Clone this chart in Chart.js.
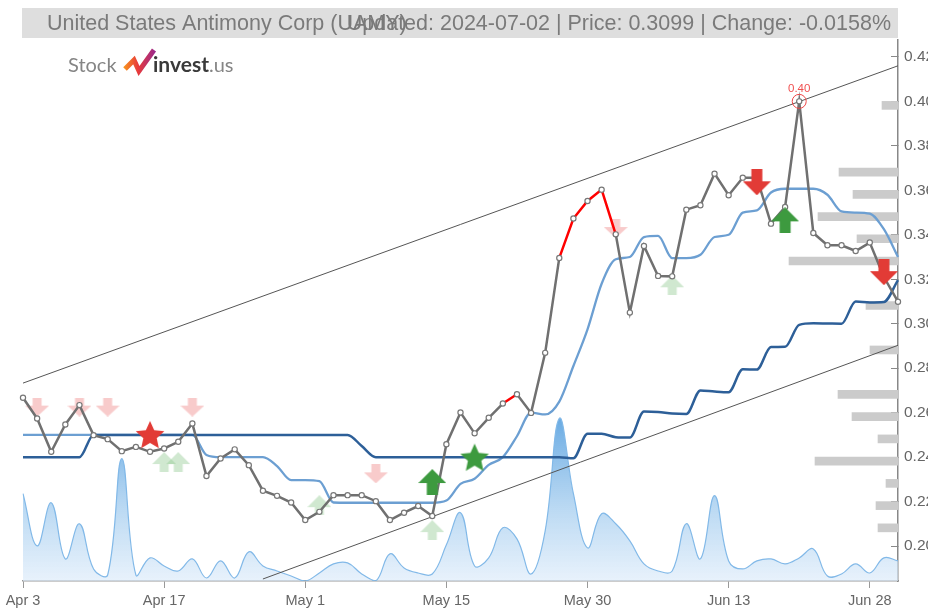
<!DOCTYPE html>
<html>
<head>
<meta charset="utf-8">
<title>UAMY</title>
<script src="https://cdn.jsdelivr.net/npm/chart.js@4.4.1/dist/chart.umd.min.js"></script>
<style>
  html, body { margin: 0; padding: 0; background: #fff; }
  #wrap { width: 928px; height: 608px; }
</style>
</head>
<body>
<div id="wrap"><canvas id="myChart" width="928" height="608"></canvas></div>
<script>
// trading days Apr 3 - Jul 2 2024
const days = ['Apr 3','Apr 4','Apr 5','Apr 8','Apr 9','Apr 10','Apr 11','Apr 12','Apr 15','Apr 16',
  'Apr 17','Apr 18','Apr 19','Apr 22','Apr 23','Apr 24','Apr 25','Apr 26','Apr 29','Apr 30',
  'May 1','May 2','May 3','May 6','May 7','May 8','May 9','May 10','May 13','May 14',
  'May 15','May 16','May 17','May 20','May 21','May 22','May 23','May 24','May 28','May 29',
  'May 30','May 31','Jun 3','Jun 4','Jun 5','Jun 6','Jun 7','Jun 10','Jun 11','Jun 12',
  'Jun 13','Jun 14','Jun 17','Jun 18','Jun 20','Jun 21','Jun 24','Jun 25','Jun 26','Jun 27',
  'Jun 28','Jul 1','Jul 2'];

const price = [0.2667,0.2574,0.2424,0.2547,0.2634,0.2499,0.2481,0.2427,0.2446,0.2424,
  0.2439,0.2469,0.2551,0.2315,0.2394,0.2435,0.2364,0.2249,0.2226,0.2196,
  0.2117,0.2154,0.2229,0.2229,0.2229,0.2202,0.2117,0.2150,0.2180,0.2135,
  0.2458,0.2601,0.2507,0.2577,0.2641,0.2683,0.2599,0.2869,0.3296,0.3473,
  0.3552,0.3603,0.3402,0.3050,0.3350,0.3215,0.3213,0.3513,0.3533,0.3675,
  0.3578,0.3657,0.3657,0.3450,0.3525,0.4000,0.3408,0.3353,0.3353,0.3327,
  0.3365,0.3210,0.3099];

// short average (light blue)
const avgShort = [0.25,0.25,0.25,0.25,0.25,0.25,0.25,0.25,0.25,0.25,
  0.25,0.25,0.25,0.241,0.24,0.24,0.24,0.24,0.236,0.2297,
  0.2297,0.2292,0.2196,0.2195,0.2195,0.2195,0.2195,0.2195,0.2195,0.2195,
  0.2205,0.228,0.2303,0.2365,0.240,0.2494,0.260,0.2592,0.265,0.281,
  0.2975,0.318,0.329,0.330,0.339,0.3395,0.3295,0.3295,0.331,0.339,
  0.340,0.350,0.351,0.359,0.3607,0.3607,0.3607,0.358,0.3505,0.350,
  0.3495,0.3425,0.330];

// long average (dark blue)
const avgLong = [0.24,0.24,0.24,0.24,0.24,0.25,0.25,0.25,0.25,0.25,
  0.25,0.25,0.25,0.25,0.25,0.25,0.25,0.25,0.25,0.25,
  0.25,0.25,0.25,0.25,0.245,0.24,0.24,0.24,0.24,0.24,
  0.24,0.24,0.24,0.24,0.24,0.24,0.24,0.24,0.24,0.2395,
  0.2505,0.2505,0.249,0.2488,0.2605,0.2603,0.2596,0.2594,0.270,0.2695,
  0.2692,0.2795,0.2794,0.2895,0.2896,0.2995,0.3002,0.3001,0.300,0.310,
  0.3096,0.3098,0.3196];

const volume = [87,35,78,22,57,12,6,122,6,23,
  15,10,22,3,20,3,29,15,10,5,
  0,8,17,18,7,0,27,13,8,7,
  36,68,15,23,53,42,7,50,162,87,
  33,67,57,40,17,10,10,57,22,85,
  20,12,20,22,17,23,32,5,7,17,
  8,23,20];

// segments of the price line drawn red (start index)
const redSegs = [34, 38, 39, 40, 41];

// trend channel ends
const chanTopIdx = [0, 62];
const chanTopVal = [0.2733, 0.4160];
const chanLowIdx = [17, 62];
const chanLowVal = [0.1852, 0.2903];

// signals
const weakSellIdx = [1, 4, 6, 12, 25, 42];
const weakSellVal = [0.2625, 0.2625, 0.2625, 0.2625, 0.2325, 0.3428];
const weakBuyIdx = [10, 11, 21, 29, 46];
const weakBuyVal = [0.2378, 0.2378, 0.2184, 0.2072, 0.3173];
const sellIdx = [52, 61];
const sellVal = [0.3636, 0.3232];
const buyIdx = [29, 54];
const buyVal = [0.2288, 0.3465];
const redStarIdx = [9];
const redStarVal = [0.2500];
const greenStarIdx = [32];
const greenStarVal = [0.2398];
const peakIdx = [55];

// volume by price (right side)
const profLevels = [0.40,0.37,0.36,0.35,0.34,0.33,0.31,0.29,0.27,0.26,0.25,0.24,0.23,0.22,0.21];
const profSize = [16,59,45,80,41,109,32,28,60,46,20,83,12,22,20];

const yTicks = [0.20,0.22,0.24,0.26,0.28,0.30,0.32,0.34,0.36,0.38,0.40,0.42];

const titleName = 'United States Antimony Corp (UAMY)';
const titleInfo = 'Updated: 2024-07-02 | Price: 0.3099 | Change: -0.0158%';

const fam = '"Liberation Sans", Arial, sans-serif';

function spread(idx, vals) {
  const a = new Array(days.length).fill(null);
  idx.forEach(function(d, k) { a[d] = vals[k]; });
  return a;
}

function arrowImg(dir, color, w, h, stemW, stemH) {
  const c = document.createElement('canvas');
  c.width = w; c.height = h;
  const g = c.getContext('2d');
  const sx = (w - stemW) / 2;
  g.fillStyle = color;
  g.beginPath();
  if (dir == 'down') {
    g.moveTo(sx, 0); g.lineTo(sx + stemW, 0); g.lineTo(sx + stemW, stemH);
    g.lineTo(w, stemH); g.lineTo(w / 2, h); g.lineTo(0, stemH); g.lineTo(sx, stemH);
  } else {
    g.moveTo(sx, h); g.lineTo(sx + stemW, h); g.lineTo(sx + stemW, h - stemH);
    g.lineTo(w, h - stemH); g.lineTo(w / 2, 0); g.lineTo(0, h - stemH); g.lineTo(sx, h - stemH);
  }
  g.closePath();
  g.fill();
  return c;
}

function starImg(color, r) {
  const c = document.createElement('canvas');
  c.width = c.height = r * 2 + 2;
  const g = c.getContext('2d');
  g.fillStyle = color;
  g.beginPath();
  for (let i = 0; i < 10; i++) {
    const rr = i % 2 === 0 ? r : r * 0.47;
    const a = -Math.PI / 2 + i * Math.PI / 5;
    g.lineTo(c.width / 2 + rr * Math.cos(a), c.height / 2 + 1 + rr * Math.sin(a));
  }
  g.closePath();
  g.fill();
  return c;
}

const imgWeakSell = arrowImg('down', 'rgba(242,160,160,0.55)', 24, 19, 9, 8);
const imgWeakBuy = arrowImg('up', 'rgba(150,205,150,0.45)', 24, 20, 9, 8);
const imgSell = arrowImg('down', '#e23b36', 28, 26, 11, 12);
const imgBuy = arrowImg('up', '#3d9a3f', 28, 26, 11, 12);
const imgRedStar = starImg('#e23b36', 15);
const imgGreenStar = starImg('#3d9a3f', 15);

function markers(idx, vals, img, ord) {
  return {
    type: 'line', data: spread(idx, vals), showLine: false,
    pointStyle: img, pointRadius: 10, order: ord, yAxisID: 'y'
  };
}

const overlay = {
  id: 'overlay',
  afterDraw(chart) {
    const g = chart.ctx;
    g.save();
    // title band
    g.fillStyle = '#dedede';
    g.fillRect(22, 8, 876, 30);
    g.fillStyle = '#7a7a7a';
    g.font = '21.5px ' + fam;
    g.textBaseline = 'middle';
    g.textAlign = 'left';
    g.fillText(titleName, 47, 24);
    g.textAlign = 'right';
    g.fillText(titleInfo, 891, 24);

    // logo
    g.textAlign = 'left';
    g.textBaseline = 'alphabetic';
    g.font = '20px Lato, "Open Sans", sans-serif';
    g.fillStyle = '#858585';
    g.fillText('Stock', 68, 72);
    const gr = g.createLinearGradient(124, 0, 155, 0);
    gr.addColorStop(0, '#f7931e');
    gr.addColorStop(0.45, '#e83a3a');
    gr.addColorStop(1, '#9b2a8c');
    g.strokeStyle = gr;
    g.lineWidth = 5;
    g.lineJoin = 'miter';
    g.beginPath();
    g.moveTo(125, 69); g.lineTo(134, 60); g.lineTo(139, 71); g.lineTo(154, 50);
    g.stroke();
    g.font = 'bold 21px Lato, "Open Sans", sans-serif';
    g.fillStyle = '#3a3a3a';
    g.fillText('invest', 153, 72);
    const w = g.measureText('invest').width;
    g.font = '20px Lato, "Open Sans", sans-serif';
    g.fillStyle = '#858585';
    g.fillText('.us', 153 + w, 72);

    // peak label
    const xs = chart.scales.x, ys = chart.scales.y;
    const p = peakIdx[0];
    g.font = '11.5px ' + fam;
    g.fillStyle = '#f05050';
    g.textAlign = 'center';
    g.fillText(price[p].toFixed(2), xs.getPixelForValue(p), ys.getPixelForValue(price[p]) - 9);
    g.restore();
  }
};

const data = {
  labels: days,
  datasets: [
    {
      label: 'Volume', data: volume, yAxisID: 'yv', order: 10,
      borderColor: 'rgba(130,185,232,1)', borderWidth: 1.2, pointRadius: 0, tension: 0.4, fill: 'origin',
      backgroundColor: function(c) {
        const a = c.chart.chartArea;
        if (!a) return 'rgba(150,195,235,0.5)';
        const gr = c.chart.ctx.createLinearGradient(0, a.bottom - 165, 0, a.bottom);
        gr.addColorStop(0, 'rgba(95,165,225,0.95)');
        gr.addColorStop(0.6, 'rgba(170,208,240,0.75)');
        gr.addColorStop(1, 'rgba(222,236,250,0.7)');
        return gr;
      }
    },
    {
      type: 'bar', label: 'Profile', indexAxis: 'y', xAxisID: 'xp', yAxisID: 'y', order: 9,
      data: profLevels.map(function(v, i) { return { x: profSize[i], y: v }; }),
      backgroundColor: '#cbcbcb', barThickness: 8, borderWidth: 0
    },
    {
      label: 'ChanTop', data: spread(chanTopIdx, chanTopVal), spanGaps: true, order: 8,
      borderColor: '#555', borderWidth: 1, pointRadius: 0
    },
    {
      label: 'ChanLow', data: spread(chanLowIdx, chanLowVal), spanGaps: true, order: 8,
      borderColor: '#555', borderWidth: 1, pointRadius: 0
    },
    {
      label: 'Short', data: avgShort, order: 7, borderColor: '#6c9fd2', borderWidth: 2.3,
      pointRadius: 0, cubicInterpolationMode: 'monotone'
    },
    {
      label: 'Long', data: avgLong, order: 6, borderColor: '#2d5f98', borderWidth: 2.5,
      pointRadius: 0, cubicInterpolationMode: 'monotone'
    },
    markers(weakSellIdx, weakSellVal, imgWeakSell, 5),
    markers(weakBuyIdx, weakBuyVal, imgWeakBuy, 5),
    {
      label: 'Price', data: price, order: 3, borderColor: '#707070', borderWidth: 2.5,
      pointRadius: 2.6, pointBackgroundColor: '#fff', pointBorderColor: '#777', pointBorderWidth: 1.2,
      segment: {
        borderColor: function(c) { return redSegs.includes(c.p0DataIndex) ? '#ff0000' : undefined; }
      }
    },
    markers(sellIdx, sellVal, imgSell, 1),
    markers(buyIdx, buyVal, imgBuy, 1),
    markers(redStarIdx, redStarVal, imgRedStar, 1),
    markers(greenStarIdx, greenStarVal, imgGreenStar, 1),
    {
      label: 'Peak', data: spread(peakIdx, [price[peakIdx[0]]]), showLine: false, order: 0,
      pointRadius: 7, pointBorderColor: '#ee4444', pointBorderWidth: 1, pointBackgroundColor: 'rgba(0,0,0,0)'
    }
  ]
};

const config = {
  type: 'line',
  data,
  options: {
    responsive: false,
    animation: false,
    devicePixelRatio: 1,
    events: [],
    layout: { padding: { top: 40, left: 23, right: 0, bottom: 0 } },
    plugins: { legend: { display: false }, tooltip: { enabled: false } },
    scales: {
      x: {
        type: 'category', offset: false,
        grid: { drawOnChartArea: false, tickLength: 7, color: '#999', offset: false },
        border: { display: true, color: '#999', width: 1.5 },
        ticks: {
          autoSkip: false, maxRotation: 0, color: '#666', padding: 4,
          font: { size: 14.5, family: fam },
          callback: function(v) { return this.getLabelForValue(v); }
        },
        afterBuildTicks: function(s) { s.ticks = s.ticks.filter(function(t) { return t.value % 10 === 0; }); },
        afterFit: function(s) { s.height = 27; }
      },
      y: {
        type: 'linear', position: 'right', min: 0.1843, max: 0.4276, offset: false,
        grid: { drawOnChartArea: false, tickLength: -7, color: '#888', offset: false },
        border: { display: true, color: '#888', width: 1.5 },
        ticks: {
          color: '#666', padding: 13, font: { size: 15.5, family: fam },
          callback: function(v) { return v.toFixed(2); }
        },
        afterBuildTicks: function(s) { s.ticks = yTicks.map(function(v) { return { value: v }; }); },
        afterFit: function(s) { s.width = 30; }
      },
      yv: { type: 'linear', display: false, min: 0, max: 539 },
      xp: { type: 'linear', display: false, min: 0, max: 875, reverse: true }
    }
  },
  plugins: [overlay]
};

const myChart = new Chart(document.getElementById('myChart'), config);
</script>
</body>
</html>
